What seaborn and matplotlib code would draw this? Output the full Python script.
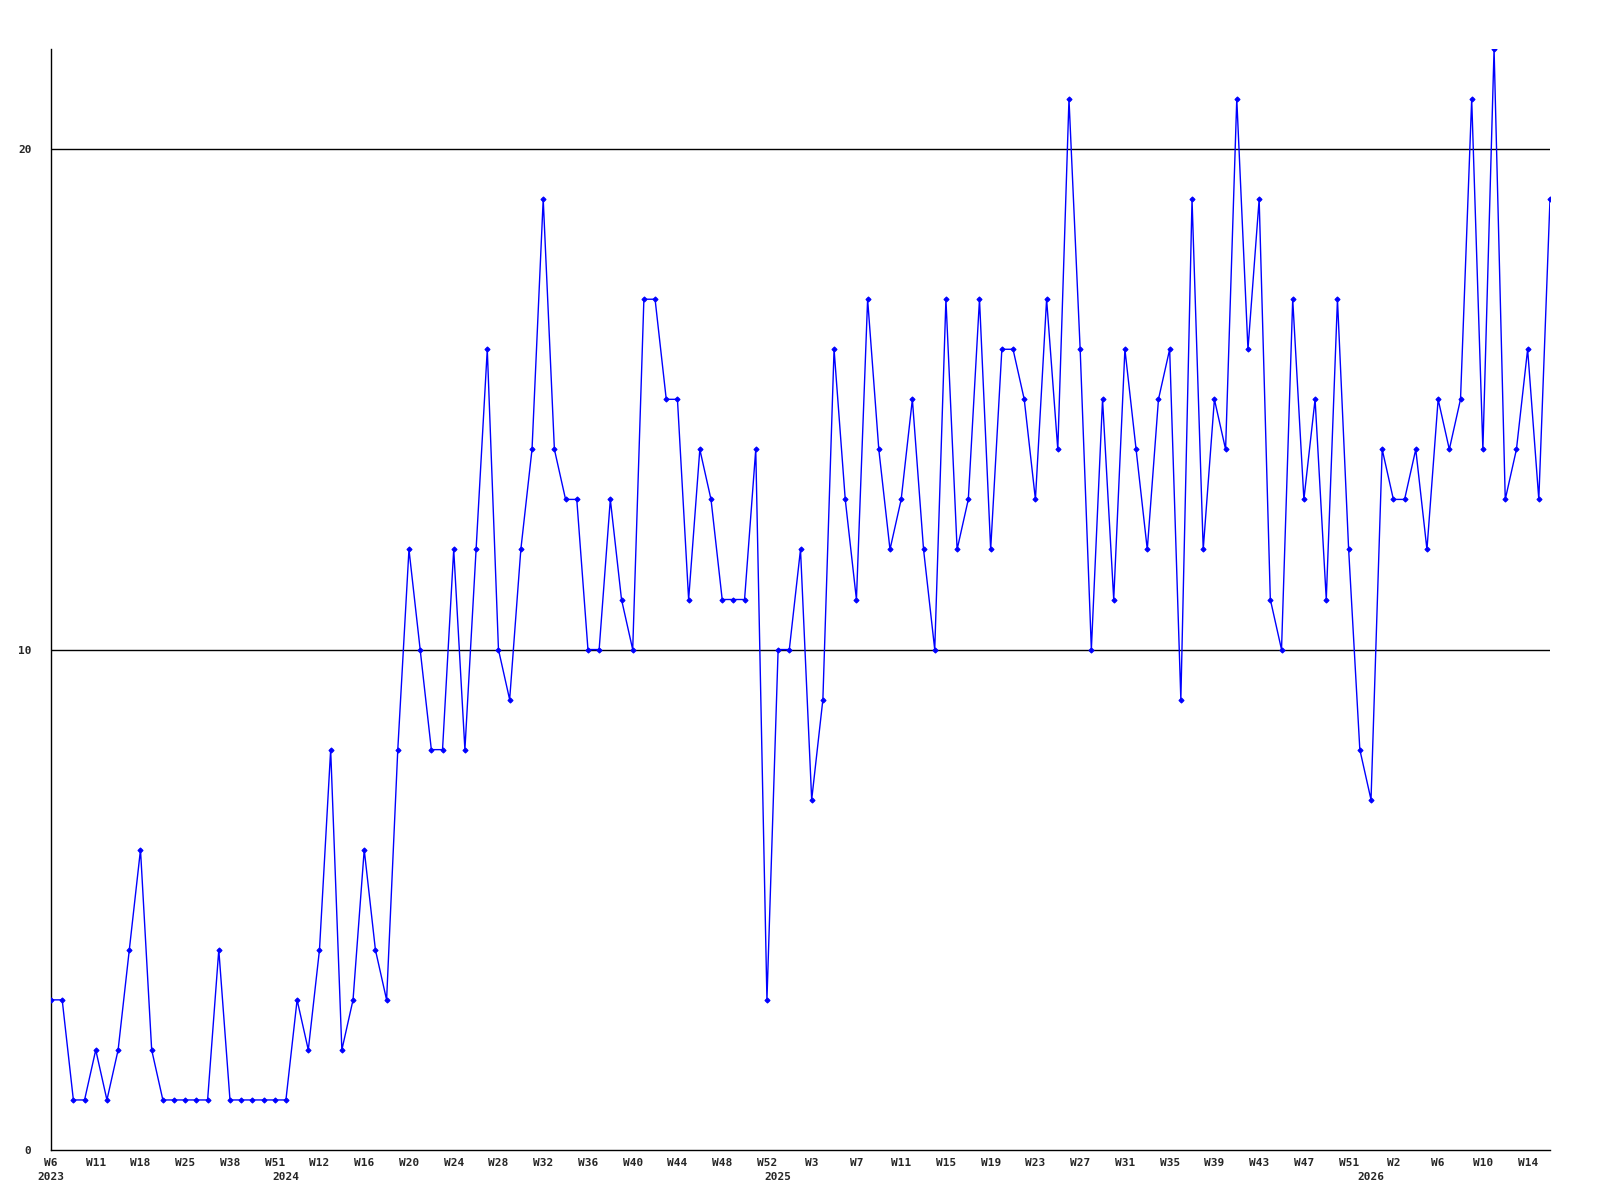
import matplotlib
matplotlib.use("Agg")
import matplotlib.pyplot as plt
import seaborn as sns
import pandas as pd

# Weekly counts (categorical x: one point per reported week)
values = [
    3, 3, 1, 1, 2, 1, 2, 4, 6, 2,
    1, 1, 1, 1, 1, 4, 1, 1, 1, 1,
    1, 1, 3, 2, 4, 8, 2, 3, 6, 4,
    3, 8, 12, 10, 8, 8, 12, 8, 12, 16,
    10, 9, 12, 14, 19, 14, 13, 13, 10, 10,
    13, 11, 10, 17, 17, 15, 15, 11, 14, 13,
    11, 11, 11, 14, 3, 10, 10, 12, 7, 9,
    16, 13, 11, 17, 14, 12, 13, 15, 12, 10,
    17, 12, 13, 17, 12, 16, 16, 15, 13, 17,
    14, 21, 16, 10, 15, 11, 16, 14, 12, 15,
    16, 9, 19, 12, 15, 14, 21, 16, 19, 11,
    10, 17, 13, 15, 11, 17, 12, 8, 7, 14,
    13, 13, 14, 12, 15, 14, 15, 21, 14, 22,
    13, 14, 16, 13, 19,
]

# Week tick labels, one every 4 points
week_labels = [
    "W6", "W11", "W18", "W25", "W38", "W51",
    "W12", "W16", "W20", "W24", "W28", "W32", "W36", "W40", "W44", "W48", "W52",
    "W3", "W7", "W11", "W15", "W19", "W23", "W27", "W31", "W35", "W39", "W43", "W47", "W51",
    "W2", "W6", "W10", "W14",
]
week_step = 4

# Year labels and the index of the first point of each year
year_labels = ["2023", "2024", "2025", "2026"]
year_starts = [0, 21, 65, 118]

y_ticks = [0, 10, 20]

df = pd.DataFrame({"idx": range(len(values)), "value": values})

sns.set_style("white")
plt.rcParams["font.family"] = ["DejaVu Sans Mono", "DejaVu Sans"]

fig = plt.figure(figsize=(16, 12), dpi=100)
ax = fig.add_axes([51 / 1600, 50 / 1200, 1499 / 1600, 1101 / 1200])

for yv in y_ticks[1:]:
    ax.axhline(yv, color="black", linewidth=1.0, zorder=1)

sns.lineplot(data=df, x="idx", y="value", ax=ax, color="#0000ff",
             linewidth=1.0, marker="D", markersize=2.6,
             markeredgecolor="#0000ff", markerfacecolor="#0000ff", zorder=3)

ax.set_xlim(0, len(values) - 1)
ax.set_ylim(0, 22)

ax.xaxis.remove_overlapping_locs = False
ax.set_xticks(range(0, len(values), week_step)[:len(week_labels)])
ax.set_xticklabels(week_labels, fontsize=8, fontweight="bold")
ax.set_xticks(year_starts, minor=True)
ax.set_xticklabels(year_labels, minor=True, fontsize=8, fontweight="bold")
ax.tick_params(axis="x", which="major", length=0, pad=6)
ax.tick_params(axis="x", which="minor", length=0, pad=16)

ax.set_yticks(y_ticks)
ax.set_yticklabels([str(v) for v in y_ticks], fontsize=8, fontweight="bold")
ax.tick_params(axis="y", length=0, pad=14)

ax.set_xlabel("")
ax.set_ylabel("")
ax.grid(False)
for s in ["top", "right"]:
    ax.spines[s].set_visible(False)
for s in ["left", "bottom"]:
    ax.spines[s].set_color("black")
    ax.spines[s].set_linewidth(1.0)

fig.savefig("out.png", dpi=100)
